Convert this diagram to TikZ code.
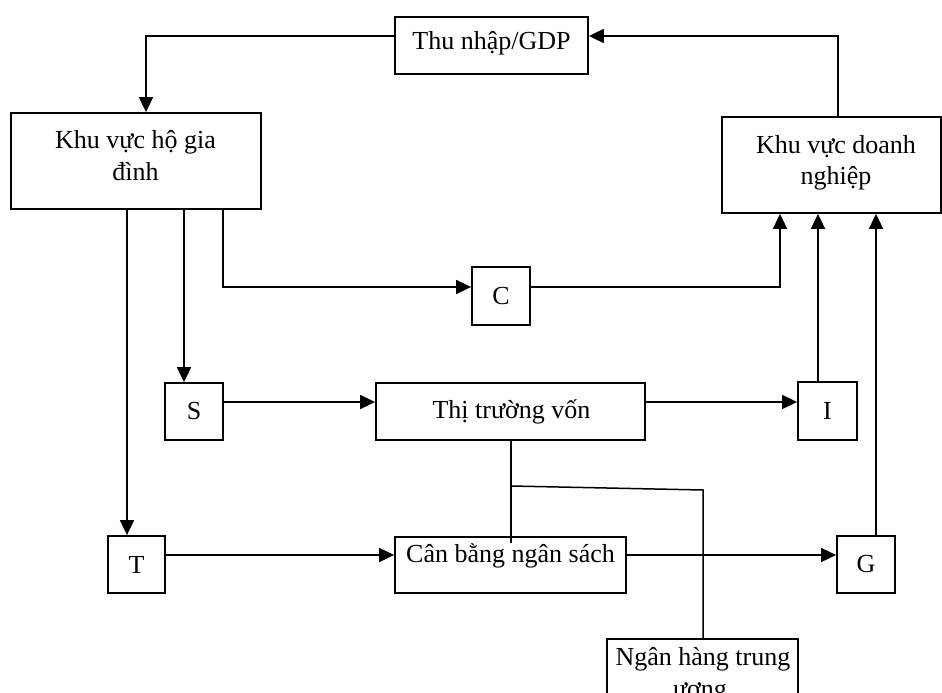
\documentclass[tikz,border=0pt]{standalone}
\usepackage{fontspec}
\setmainfont{Liberation Serif}
\usetikzlibrary{arrows.meta}
\tikzset{
  boxa/.style={draw, line width=1.8pt, inner sep=0pt, font=\fontsize{26}{31}\selectfont},
  txt/.style={inner sep=0pt, anchor=base, font=\fontsize{26}{31}\selectfont},
  arr/.style={line width=1.8pt, -{Triangle[length=15pt,width=14pt]}},
  ln/.style={line width=1.5pt}
}
\begin{document}
\begin{tikzpicture}[x=1pt,y=-1pt]
\useasboundingbox (0,0) rectangle (942,693);
\clip (0,0) rectangle (942,693);
% boxes
\node[boxa, minimum width=193pt, minimum height=57pt] (gdp) at (491.5,45.5) {};
\node[txt] (gdpt) at (491.5,50) {Thu nhập/GDP};
\node[boxa, minimum width=250pt, minimum height=96pt] (hh) at (136,161) {};
\node[txt] (hht1) at (135.5,148) {Khu vực hộ gia};
\node[txt] (hht2) at (135.5,180) {đình};
\node[boxa, minimum width=219pt, minimum height=96pt] (dn) at (831.5,165) {};
\node[txt] (dnt1) at (836,153) {Khu vực doanh};
\node[txt] (dnt2) at (836,184) {nghiệp};
\node[boxa, minimum width=58pt, minimum height=58pt] (C) at (501,296) {C};
\node[boxa, minimum width=58pt, minimum height=57pt] (S) at (194,411.5) {S};
\node[boxa, minimum width=269pt, minimum height=57pt] (tt) at (510.5,411.5) {};
\node[txt] (ttt) at (511.5,418) {Thị trường vốn};
\node[boxa, minimum width=59pt, minimum height=58pt] (I) at (827.5,411) {I};
\node[boxa, minimum width=57pt, minimum height=57pt] (T) at (136.5,564.5) {T};
\node[boxa, minimum width=231pt, minimum height=56pt] (cb) at (510.5,565) {};
\node[txt] (cbt) at (510.5,562) {Cân bằng ngân sách};
\node[boxa, minimum width=58pt, minimum height=57pt] (G) at (866,564.5) {G};
\node[boxa, minimum width=191pt, minimum height=91pt] (nh) at (702.5,684.5) {};
\node[txt] (nht1) at (703,665) {Ngân hàng trung};
\node[txt] (nht2) at (700,697) {ương};
% helper coordinates
\coordinate (xa) at (838,0);
\coordinate (ya) at (0,36);
\coordinate (xb) at (146,0);
\coordinate (xT) at (127,0);
\coordinate (xS) at (184,0);
\coordinate (xC) at (223,0);
\coordinate (yC) at (0,287);
\coordinate (xCu) at (780,0);
\coordinate (yS) at (0,402);
\coordinate (xI) at (818,0);
\coordinate (yT) at (0,555);
\coordinate (xG) at (876,0);
\coordinate (xm) at (511,0);
\coordinate (mend) at (511,543);
\coordinate (jn) at (511,486);
\coordinate (jn2) at (703,490);
% connectors
\draw[arr] (dn.north -| xa) -- (xa |- ya) -- (gdp.east |- ya);
\draw[arr] (gdp.west |- ya) -- (xb |- ya) -- (hh.north -| xb);
\draw[arr] (hh.south -| xT) -- (T.north -| xT);
\draw[arr] (hh.south -| xS) -- (S.north -| xS);
\draw[arr] (hh.south -| xC) |- (C.west |- yC);
\draw[arr] (C.east |- yC) -| (dn.south -| xCu);
\draw[arr] (S.east |- yS) -- (tt.west |- yS);
\draw[arr] (tt.east |- yS) -- (I.west |- yS);
\draw[arr] (I.north -| xI) -- (dn.south -| xI);
\draw[arr] (T.east |- yT) -- (cb.west |- yT);
\draw[arr] (cb.east |- yT) -- (G.west |- yT);
\draw[arr] (G.north -| xG) -- (dn.south -| xG);
\draw[ln] (tt.south -| xm) -- (mend);
\draw[ln] (jn) -- (jn2) -- (nh.north -| jn2);
\end{tikzpicture}
\end{document}
